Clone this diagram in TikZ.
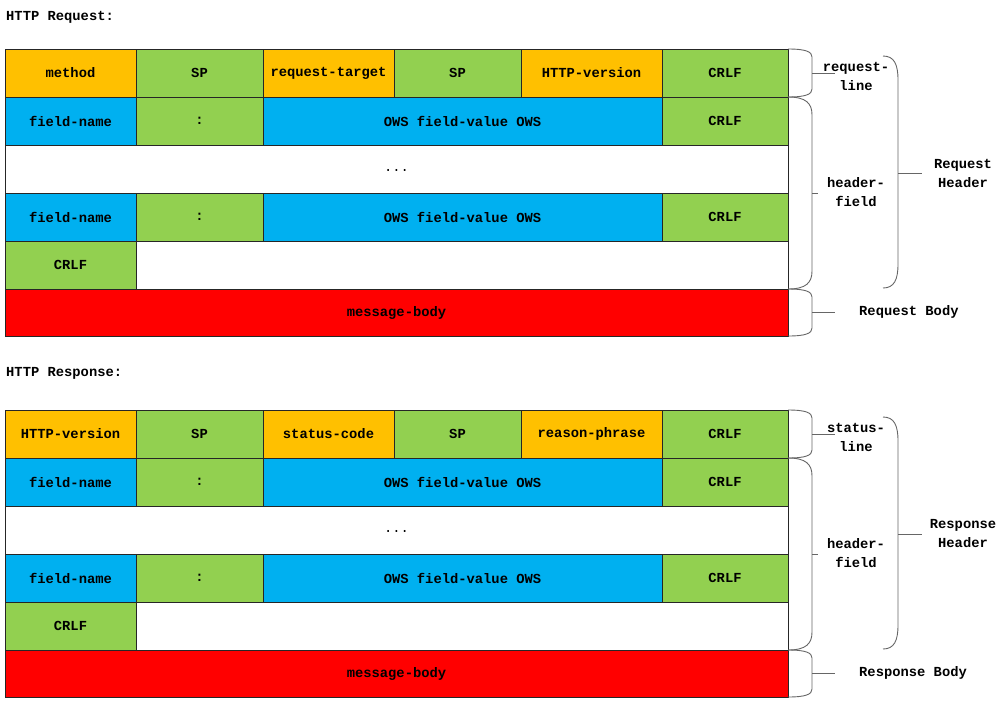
\documentclass[tikz,border=0pt]{standalone}
\usepackage{fontspec}
\newfontfamily\mono{Liberation Mono}
\definecolor{corange}{HTML}{FFC000}
\definecolor{cgreen}{HTML}{92D050}
\definecolor{cblue}{HTML}{00B0F0}
\definecolor{cred}{HTML}{FF0000}
\newcommand\cf{\mono\bfseries\fontsize{13.8}{19}\selectfont}
\tikzset{
  cell/.style={draw=black!85, line width=0.9pt, anchor=north west, inner sep=0pt, outer sep=0pt, font=\cf},
  bracepath/.style={draw=black!60, line width=0.9pt},
  lbl/.style={align=center, inner sep=0pt, font=\cf},
}
% name, x1, y1, x2, y2, fill, text
\newcommand\cellat[7]{%
  \node[cell, fill=#6, minimum width={((#4)-(#2))*1pt}, minimum height={((#5)-(#3))*1pt}] (#1) at (#2,{#3}) {#7};}
% x0, ytop, ybot, w, r
\newcommand\bracket[5]{%
  \draw[bracepath] (#1,{#2}) .. controls ({#1+0.75*(#4)},{#2}) and ({#1+(#4)},{#2+0.35*(#5)}) .. ({#1+(#4)},{#2+(#5)})
    -- ({#1+(#4)},{#3-(#5)}) .. controls ({#1+(#4)},{#3-0.35*(#5)}) and ({#1+0.75*(#4)},{#3}) .. (#1,{#3});}
% prefix, y0, c1, c3, c5, line label, header label, body label
\newcommand\httpblock[8]{%
  \cellat{#1r1a}{5}{#2}{136}{#2+48}{corange}{#3}
  \cellat{#1r1b}{136}{#2}{263}{#2+48}{cgreen}{SP}
  \cellat{#1r1c}{263}{#2}{394}{#2+48}{corange}{#4}
  \cellat{#1r1d}{394}{#2}{521}{#2+48}{cgreen}{SP}
  \cellat{#1r1e}{521}{#2}{662}{#2+48}{corange}{#5}
  \cellat{#1r1f}{662}{#2}{788}{#2+48}{cgreen}{CRLF}
  \cellat{#1r2a}{5}{#2+48}{136}{#2+96}{cblue}{field-name}
  \cellat{#1r2b}{136}{#2+48}{263}{#2+96}{cgreen}{:}
  \cellat{#1r2c}{263}{#2+48}{662}{#2+96}{cblue}{OWS field-value OWS}
  \cellat{#1r2d}{662}{#2+48}{788}{#2+96}{cgreen}{CRLF}
  \cellat{#1r3a}{5}{#2+96}{788}{#2+144}{white}{\raisebox{-4pt}{\mdseries...}}
  \cellat{#1r4a}{5}{#2+144}{136}{#2+192}{cblue}{field-name}
  \cellat{#1r4b}{136}{#2+144}{263}{#2+192}{cgreen}{:}
  \cellat{#1r4c}{263}{#2+144}{662}{#2+192}{cblue}{OWS field-value OWS}
  \cellat{#1r4d}{662}{#2+144}{788}{#2+192}{cgreen}{CRLF}
  \cellat{#1r5a}{5}{#2+192}{136}{#2+240}{cgreen}{CRLF}
  \cellat{#1r5b}{136}{#2+192}{788}{#2+240}{white}{}
  \cellat{#1r6a}{5}{#2+240}{788}{#2+287}{cred}{message-body}
  % braces
  \bracket{788}{#2}{#2+48}{24}{8}
  \bracket{788}{#2+48}{#2+240}{24}{18}
  \bracket{788}{#2+240}{#2+287}{24}{8}
  \bracket{883}{#2+7}{#2+239}{15}{24}
  \coordinate (#1t1) at (835,{#2+24});
  \coordinate (#1t2) at (818,{#2+144});
  \coordinate (#1t3) at (922,{#2+124});
  \coordinate (#1t4) at (835,{#2+263});
  \draw[bracepath] (812,{#2+24}) -- (#1t1);
  \draw[bracepath] (812,{#2+144}) -- (#1t2);
  \draw[bracepath] (898,{#2+124}) -- (#1t3);
  \draw[bracepath] (812,{#2+263}) -- (#1t4);
  \node[lbl] (#1L1) at (856,{#2+27}) {#6-\\line};
  \node[lbl] (#1L2) at (856,{#2+143}) {header-\\field};
  \node[lbl] (#1L3) at (963,{#2+124}) {#1\\Header};
  \node[lbl, anchor=west] (#1L4) at (859,{#2+263}) {#8};
}
\begin{document}
\begin{tikzpicture}[x=1pt,y=-1pt]
  \useasboundingbox (0,0) rectangle (1000,705);
  \node[lbl, anchor=west] (title1) at (6,17) {HTTP Request:};
  \httpblock{Request}{49}{method}{request-target}{HTTP-version}{request}{header}{Request Body}
  \node[lbl, anchor=west] (title2) at (6,373) {HTTP Response:};
  \httpblock{Response}{410}{HTTP-version}{status-code}{reason-phrase}{status}{header}{Response Body}
\end{tikzpicture}
\end{document}
